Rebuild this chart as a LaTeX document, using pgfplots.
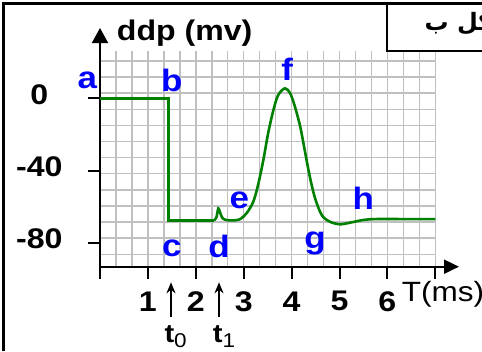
\documentclass[border=0pt]{standalone}
\usepackage{fontspec}
\setmainfont{Liberation Sans}[FakeStretch=1.13]
\newfontfamily\arabicfont[Script=Arabic]{DejaVu Sans}
\TeXXeTstate=1
\usepackage{pgfplots}
\pgfplotsset{compat=1.18}
\usetikzlibrary{arrows.meta}
\definecolor{curve}{RGB}{0,128,0}
\definecolor{lbl}{RGB}{0,0,255}
\definecolor{gridc}{RGB}{192,192,192}
\begin{document}
\begin{tikzpicture}
\pgfplotsset{common/.style={x=47.9bp, y=1.805bp, xmin=0, xmax=7, ymin=-93.3, ymax=26.2, clip=false}}
\tikzset{ptl/.style={lbl, inner sep=0, font=\fontsize{31}{31}\selectfont\bfseries}}
% background grid
\begin{axis}[common, axis line style={draw=none}, tick style={draw=none},
    xticklabels={}, yticklabels={},
    xtick={0.3333,0.6667,1,1.3333,1.6667,2,2.3333,2.6667,3,3.3333,3.6667,4,4.3333,4.6667,5,5.3333,5.6667,6,6.3333,6.6667,7},
    ytick={-86.4,-77.48,-68.56,-59.64,-50.72,-41.8,-32.88,-23.96,-15.04,-6.12,2.8,11.72,20.64},
    grid=major, grid style={gridc, line width=1.5bp}]
\end{axis}
\begin{axis}[common, axis lines*=left,
    axis line style={black, line width=2bp},
    x axis line style={-{Triangle[length=15bp,width=14bp]}, shorten >=-23.7bp},
    y axis line style={-{Triangle[length=15bp,width=16bp]}, shorten >=-23bp},
    tick align=outside, major tick length=12bp, tick style={black, line width=2bp},
    xtick={0,1,2,3,4,5,6,7}, xticklabels={,1,2,3,4,5,6,},
    ytick={-80,-40,0}, yticklabels={-80,-40,0},
    ticklabel style={font=\fontsize{28.5}{28.5}\selectfont\bfseries, inner sep=0, anchor=center},
    xticklabel style={yshift=-22.6bp},
    yticklabel style={xshift=-48.7bp, yshift=4bp}]
\addplot[curve, line width=2.6bp] coordinates {(0,0) (1.43,0) (1.43,-67.6) (2.38,-67.6)};
\addplot[curve, line width=2.6bp, smooth, tension=0.5] coordinates {
 (2.38,-67.6) (2.43,-66) (2.47,-61) (2.51,-63.5) (2.56,-66.5) (2.65,-67.5) (2.8,-67.6)
 (2.92,-67) (3.06,-63.7) (3.2,-57.3) (3.3,-48) (3.41,-34.2) (3.51,-19.4) (3.62,-6.5)
 (3.72,1.8) (3.86,5.5) (3.97,2.8) (4.07,-4.7) (4.18,-15.7) (4.28,-29.6) (4.38,-43.4)
 (4.49,-55.4) (4.63,-64.7) (4.8,-68.4) (5.01,-69.8) (5.22,-68.9) (5.5,-67.4) (5.77,-66.9)
 (6.3,-66.9) (7,-66.9)};
\node[ptl] at (axis cs:-0.265,10.1) {a};
\node[ptl] at (axis cs:1.497,10.1) {b};
\node[ptl] at (axis cs:1.497,-83.1) {c};
\node[ptl] at (axis cs:2.484,-82.2) {d};
\node[ptl] at (axis cs:2.908,-56.3) {e};
\node[ptl] at (axis cs:3.91,16.2) {f};
\node[ptl] at (axis cs:4.489,-80.3) {g};
\node[ptl] at (axis cs:5.497,-55.4) {h};
\coordinate (O) at (axis cs:0,0);
\end{axis}
\begin{scope}[shift={(O)}, x=1bp, y=-1bp, shift={(-100,-98.3)}]
\draw[line width=3bp] (3.3,351) -- (3.3,3.3) -- (482,3.3);
\draw[line width=2bp] (387.3,3.3) -- (387.3,50.7) -- (482,50.7);
\node[anchor=base west, inner sep=0, font=\arabicfont\fontsize{24}{24}\selectfont\bfseries] at (424.5,30.5) {\beginR شكل ب\endR};
\node[anchor=base west, inner sep=0, font=\fontsize{28.5}{29}\selectfont\bfseries] at (116.7,40) {ddp (mv)};
\node[anchor=base west, inner sep=0, font=\fontsize{28}{28}\selectfont] at (401.7,301.7) {T(ms)};
\draw[line width=1.7bp, -{Stealth[length=11bp,width=9bp]}] (171,316.7) -- (171,282.3);
\draw[line width=1.7bp, -{Stealth[length=11bp,width=9bp]}] (219,316.7) -- (219,282.3);
\node[anchor=base west, inner sep=0, font=\fontsize{26}{26}\selectfont\bfseries] at (164.3,342.5) {t\raisebox{-5bp}{\fontsize{20}{20}\selectfont\mdseries 0}};
\node[anchor=base west, inner sep=0, font=\fontsize{26}{26}\selectfont\bfseries] at (212.7,342.5) {t\raisebox{-5bp}{\fontsize{20}{20}\selectfont\mdseries 1}};
\pgfresetboundingbox
\path[use as bounding box] (0,0) rectangle (482,351);
\end{scope}
\end{tikzpicture}
\end{document}
